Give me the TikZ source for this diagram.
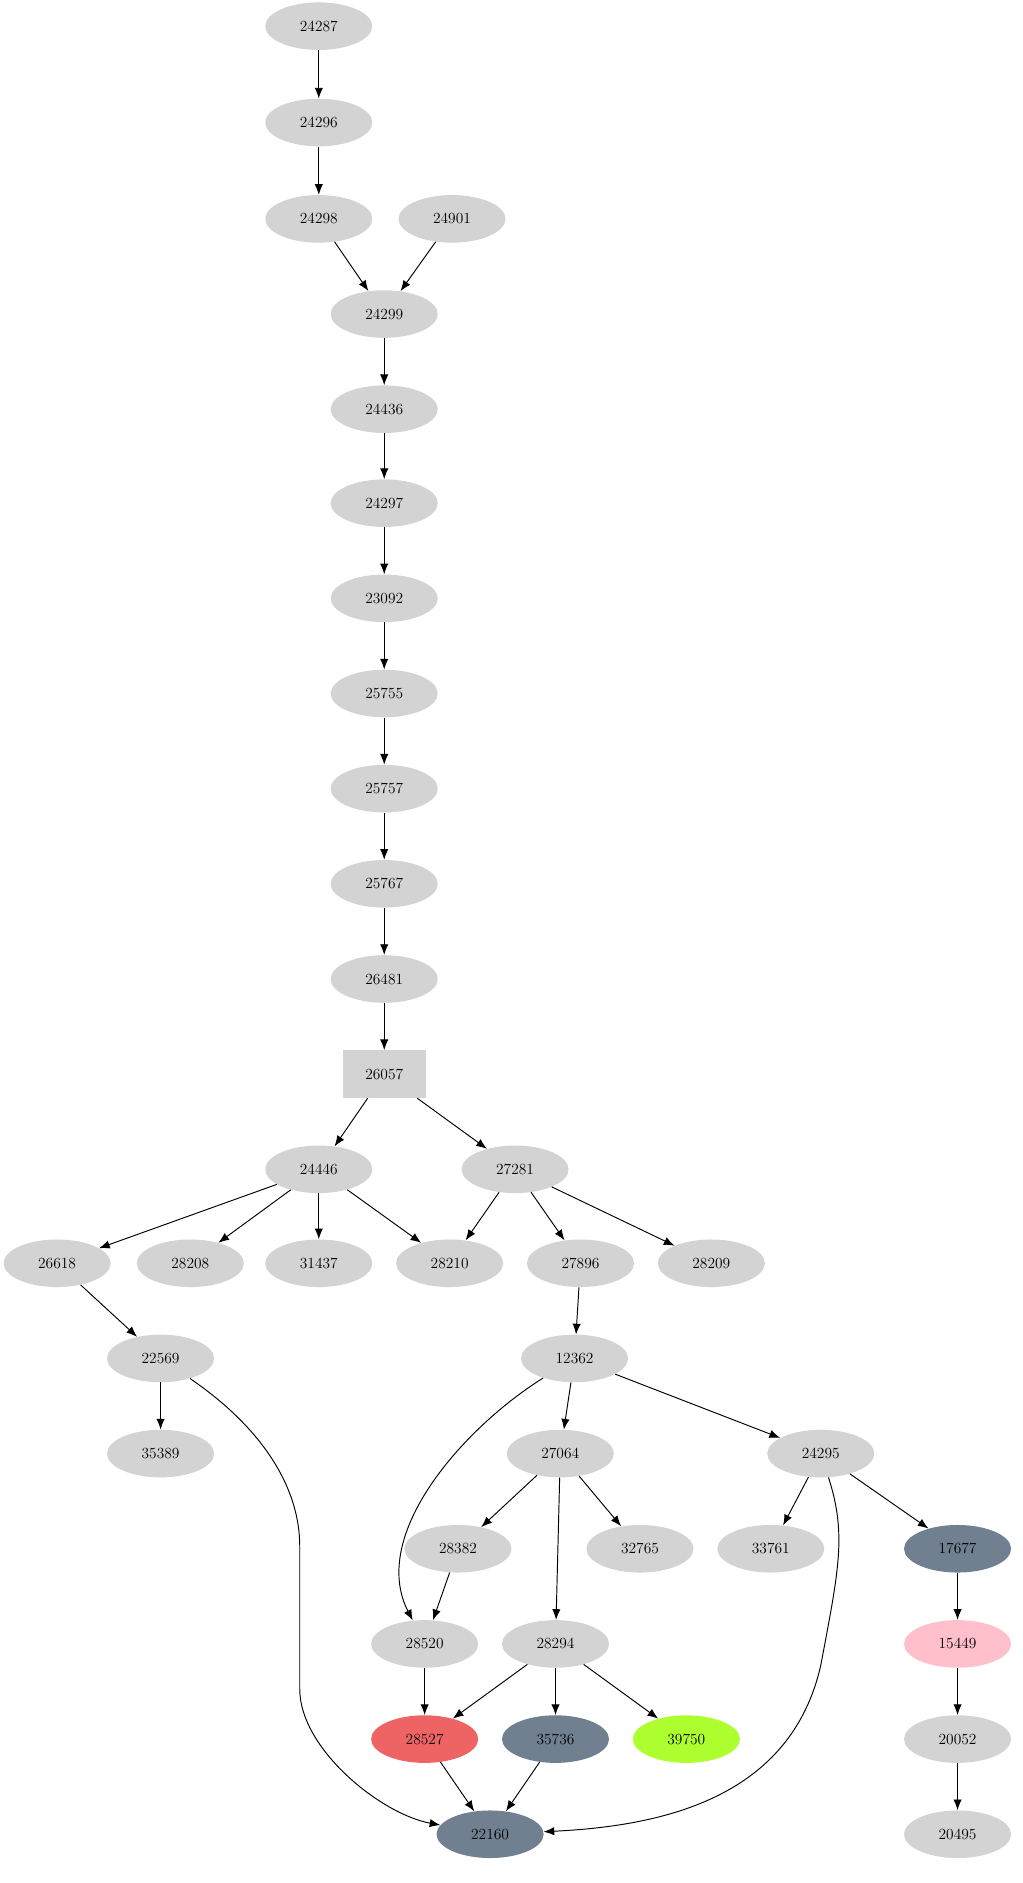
\documentclass[tikz,border=0pt]{standalone}
\usetikzlibrary{shapes.geometric,arrows.meta}
\definecolor{lg}{HTML}{D3D3D3}
\definecolor{sg}{HTML}{708090}
\definecolor{pk}{HTML}{FFC0CB}
\definecolor{rd}{HTML}{EE6363}
\definecolor{gy}{HTML}{ADFF2F}
\begin{document}
\begin{tikzpicture}[x=1pt,y=-1pt,
 nd/.style={ellipse,fill=lg,minimum width=90pt,minimum height=40pt,inner sep=0pt,font=\fontsize{13}{15}\selectfont},
 bx/.style={rectangle,fill=lg,minimum width=70pt,minimum height=40pt,inner sep=0pt,font=\fontsize{13}{15}\selectfont},
 e/.style={-{Latex[length=9pt,width=7pt]},line width=0.8pt}]
\useasboundingbox (0,0) rectangle (860,1583);
\foreach \n/\x/\y in {24287/268/22,24296/268/103,24298/268/184,24901/380/184,24299/323/264,24436/323/344,24297/323/423,23092/323/503,25755/323/583,25757/323/663,25767/323/743,26481/323/823,24446/268/983,27281/433/983,26618/48/1062,28208/160/1062,31437/268/1062,28210/378/1062,27896/488/1062,28209/598/1062,22569/135/1142,12362/483/1142,35389/135/1222,27064/471/1222,24295/690/1222,28382/385/1302,32765/538/1302,33761/648/1302,28520/357/1382,28294/467/1382,20052/805/1462,20495/805/1542}
 \node[nd] (n\n) at (\x,\y) {\n};
\node[bx] (n26057) at (323,903) {26057};
\node[nd,fill=sg] (n17677) at (805,1302) {17677};
\node[nd,fill=pk] (n15449) at (805,1382) {15449};
\node[nd,fill=rd] (n28527) at (357,1462) {28527};
\node[nd,fill=sg] (n35736) at (467,1462) {35736};
\node[nd,fill=gy] (n39750) at (577,1462) {39750};
\node[nd,fill=sg] (n22160) at (412,1542) {22160};
\foreach \a/\b in {24287/24296,24296/24298,24298/24299,24901/24299,24299/24436,24436/24297,24297/23092,23092/25755,25755/25757,25757/25767,25767/26481,26481/26057,26057/24446,26057/27281,24446/26618,24446/28208,24446/31437,24446/28210,27281/28210,27281/27896,27281/28209,26618/22569,27896/12362,22569/35389,12362/27064,12362/24295,27064/28382,27064/32765,27064/28294,24295/33761,24295/17677,28382/28520,28520/28527,28294/28527,28294/35736,28294/39750,28527/22160,35736/22160,17677/15449,15449/20052,20052/20495}
 \draw[e] (n\a) -- (n\b);
\draw[e] (n22569) .. controls (220,1200) and (252,1250) .. (252,1300) -- (252,1420) .. controls (252,1470) and (320,1525) .. (n22160);
\draw[e] (n24295) .. controls (712,1290) and (705,1320) .. (690,1400) .. controls (665,1510) and (560,1535) .. (n22160);
\draw[e] (n12362) .. controls (390,1200) and (310,1290) .. (n28520);
\end{tikzpicture}
\end{document}
